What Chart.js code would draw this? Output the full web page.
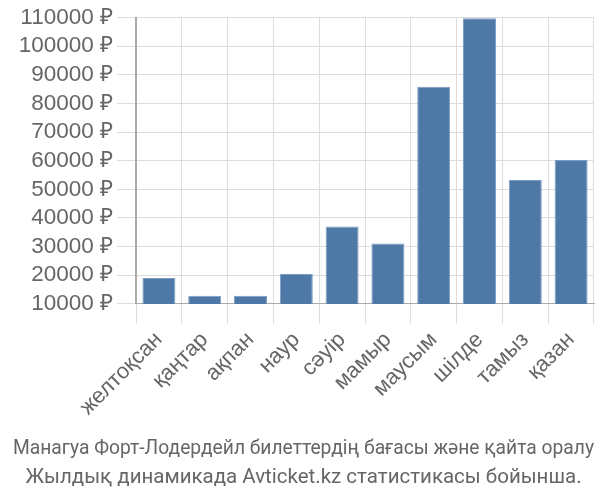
<!DOCTYPE html>
<html>
<head>
<meta charset="utf-8">
<script src="https://cdn.jsdelivr.net/npm/chart.js@4"></script>
<style>
  body { margin: 0; background: #fff; }
</style>
</head>
<body>
<canvas id="myChart" width="600" height="500"></canvas>
<script>
  var months = ["желтоқсан", "қаңтар", "ақпан", "наур", "сәуір", "мамыр", "маусым", "шілде", "тамыз", "қазан"];
  var prices = [19000, 12800, 12800, 20400, 37000, 31100, 85800, 109700, 53300, 60200];
  var titleLines = ["Манагуа Форт-Лодердейл билеттердің бағасы және қайта оралу", "Жылдық динамикада Avticket.kz статистикасы бойынша."];

  new Chart("myChart", {
    type: "bar",
    data: {
      labels: months,
      datasets: [{
        data: prices,
        backgroundColor: "#4e79a7",
        borderColor: "#7c9cc2",
        borderWidth: 1,
        barPercentage: 0.72,
        categoryPercentage: 1
      }]
    },
    options: {
      responsive: false,
      animation: false,
      layout: { padding: { top: 1, right: 6, left: 13, bottom: 8 } },
      plugins: {
        legend: { display: false },
        tooltip: { enabled: false },
        title: {
          display: true,
          position: "bottom",
          text: titleLines,
          color: "#666",
          font: { family: "Roboto", size: 20.5, weight: "normal", lineHeight: 1.4 },
          padding: { top: 11, bottom: 0 }
        }
      },
      scales: {
        x: {
          grid: { color: "#dddddd", tickLength: 20, offset: true },
          border: { color: "#aaaaaa" },
          ticks: {
            color: "#666",
            autoSkip: false,
            maxRotation: 45,
            minRotation: 45,
            font: { family: "Liberation Sans", size: 22 }
          }
        },
        y: {
          min: 10000,
          max: 110000,
          afterFit: s => { s.width = 123; },
          grid: { color: "#dddddd", tickLength: 19 },
          border: { color: "#aaaaaa", width: 2 },
          ticks: {
            stepSize: 10000,
            autoSkip: false,
            color: "#666",
            padding: 4,
            font: { family: "Liberation Sans", size: 22.5 },
            callback: v => v + " ₽"
          }
        }
      }
    }
  });
</script>
</body>
</html>
